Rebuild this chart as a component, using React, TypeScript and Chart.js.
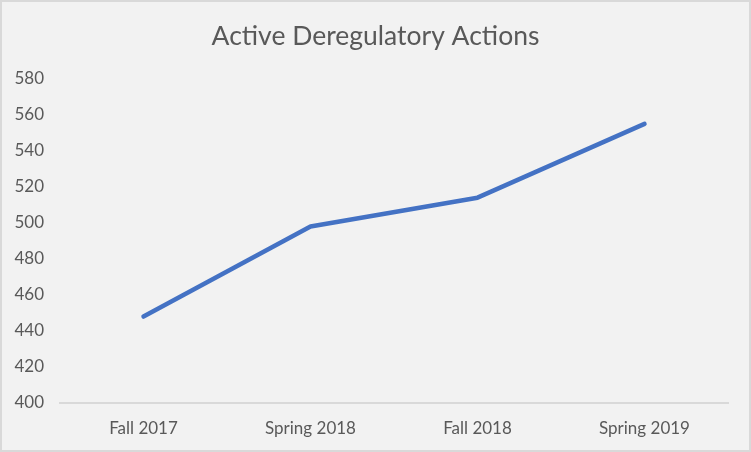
import React, { useEffect, useRef } from "react";
import { Chart, registerables } from "chart.js";

Chart.register(...registerables);

const title = "Active Deregulatory Actions";
const categories = ["Fall 2017", "Spring 2018", "Fall 2018", "Spring 2019"];
const values = [448, 498, 514, 555];
const yMin = 400;
const yMax = 580;
const yStep = 20;

export default function App() {
  const ref = useRef<HTMLCanvasElement | null>(null);

  useEffect(() => {
    if (!ref.current) return;
    const chart = new Chart(ref.current, {
      type: "line",
      data: {
        labels: categories,
        datasets: [
          {
            data: values,
            borderColor: "#4472C4",
            backgroundColor: "#4472C4",
            borderWidth: 4.5,
            borderCapStyle: "round",
            borderJoinStyle: "round",
            pointRadius: 0,
            tension: 0,
          },
        ],
      },
      options: {
        animation: false,
        responsive: false,
        maintainAspectRatio: false,
        layout: { padding: { left: 0, right: 0, top: 0, bottom: 0 } },
        plugins: {
          legend: { display: false },
          tooltip: { enabled: false },
          title: {
            display: true,
            text: title,
            color: "#595959",
            font: { family: "Lato", size: 26.5, weight: "normal", lineHeight: 1.2 },
            padding: { top: 19, bottom: 26 },
          },
        },
        scales: {
          x: {
            offset: true,
            grid: { display: false, drawTicks: false },
            border: { display: true, color: "#d9d9d9", width: 2 },
            afterFit: (s: any) => {
              s.height = 47;
            },
            ticks: {
              color: "#595959",
              font: { family: "Lato", size: 17 },
              padding: 15,
              maxRotation: 0,
            },
          },
          y: {
            min: yMin,
            max: yMax,
            grid: { display: false, drawTicks: false },
            border: { display: false },
            afterFit: (s: any) => {
              s.width = 58;
            },
            ticks: {
              stepSize: yStep,
              color: "#595959",
              font: { family: "Lato", size: 17 },
              padding: 16,
            },
          },
          yRight: {
            position: "right",
            display: true,
            grid: { display: false, drawTicks: false },
            border: { display: false },
            ticks: { display: false },
            afterFit: (s: any) => {
              s.width = 21;
            },
          },
        },
      },
    });
    return () => chart.destroy();
  }, []);

  return (
    <div
      style={{
        position: "absolute",
        left: 0,
        top: 0,
        width: 751,
        height: 452,
        boxSizing: "border-box",
        border: "2px solid #d9d9d9",
        background: "#f2f2f2",
      }}
    >
      <canvas ref={ref} width={747} height={448} style={{ display: "block" }} />
    </div>
  );
}
